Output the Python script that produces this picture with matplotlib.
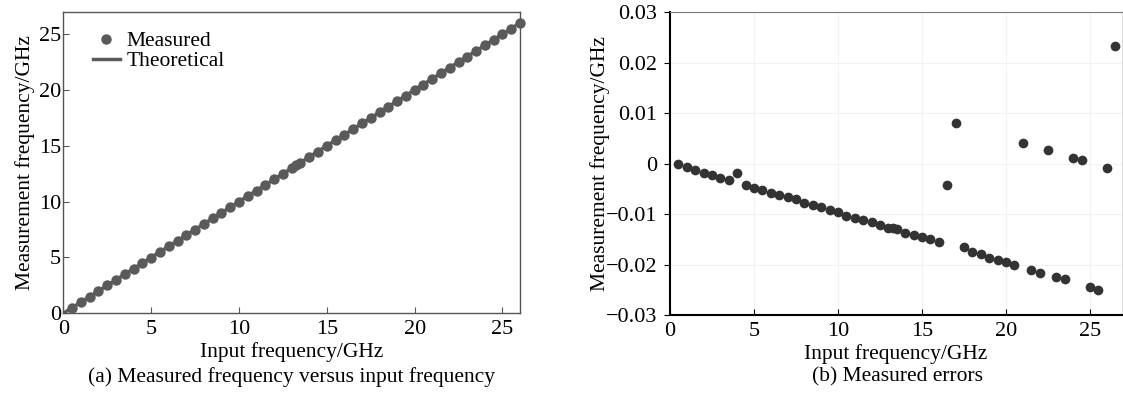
import numpy as np
import matplotlib
matplotlib.use("Agg")
import matplotlib.pyplot as plt
from matplotlib.ticker import FuncFormatter

# input frequencies (GHz) and measured errors (GHz)
freq_in = [0.5, 1.0, 1.5, 2.0, 2.5, 3.0, 3.5, 4.0, 4.5, 5.0, 5.5, 6.0, 6.5,
           7.0, 7.5, 8.0, 8.5, 9.0, 9.5, 10.0, 10.5, 11.0, 11.5, 12.0, 12.5,
           13.0, 13.25, 13.5, 14.0, 14.5, 15.0, 15.5, 16.0, 16.5, 17.0, 17.5,
           18.0, 18.5, 19.0, 19.5, 20.0, 20.5, 21.0, 21.5, 22.0, 22.5, 23.0,
           23.5, 24.0, 24.5, 25.0, 25.5, 26.0, 26.5]
err = [-0.0001, -0.0007, -0.0013, -0.0018, -0.0023, -0.0028, -0.0033, -0.0019,
       -0.0042, -0.0048, -0.0052, -0.0058, -0.0062, -0.0067, -0.0071, -0.0077,
       -0.0082, -0.0086, -0.0092, -0.0096, -0.0103, -0.0107, -0.0111, -0.0116,
       -0.0122, -0.0127, -0.0127, -0.0130, -0.0137, -0.0141, -0.0146, -0.0150,
       -0.0156, -0.0042, 0.0080, -0.0165, -0.0176, -0.0180, -0.0186, -0.0191,
       -0.0195, -0.0201, 0.0041, -0.0210, -0.0216, 0.0027, -0.0224, -0.0229,
       0.0012, 0.0007, -0.0244, -0.0250, -0.0008, 0.0234]
theory_x = [0, 26]

freq_in = np.array(freq_in)
err = np.array(err)
keep = freq_in <= 26
measured = freq_in[keep] + err[keep]

plt.rcParams['font.family'] = ['Liberation Serif', 'DejaVu Serif']
plt.rcParams['font.size'] = 15.5
plt.rcParams['axes.unicode_minus'] = True

fig = plt.figure(figsize=(11.23, 3.95), dpi=100)

#=========================================
# (a) measured vs input
#=========================================
ax1 = fig.add_axes([0.0564, 0.2068, 0.4067, 0.7635])
ax1.plot(theory_x, theory_x, color='#5a5a5a', lw=2.5, label='Theoretical', zorder=2)
ax1.plot(freq_in[keep], measured, 'o', color='#5a5a5a', ms=7.5, mec='none',
         label='Measured', clip_on=False, zorder=3)
ax1.set_xlim(0, 26)
ax1.set_ylim(0, 27)
ax1.set_xticks([0, 5, 10, 15, 20, 25])
ax1.set_yticks([0, 5, 10, 15, 20, 25])
for s in ax1.spines.values():
    s.set_color('#555555')
    s.set_linewidth(1.0)
ax1.tick_params(direction='in', length=4, color='#555555', labelsize=16)
ax1.tick_params(axis='x', pad=5)
ax1.tick_params(axis='y', pad=1.5)
ax1.set_xlabel('Input frequency/GHz', labelpad=2)
ax1.set_ylabel('Measurement frequency/GHz', labelpad=3)
h, l = ax1.get_legend_handles_labels()
ax1.legend(h[::-1], l[::-1], loc='upper left', bbox_to_anchor=(0.065, 0.935),
           frameon=False, handlelength=1.25, handletextpad=0.3,
           labelspacing=0.0, borderpad=0.0, borderaxespad=0.0)
fig.text(0.26, 0.045, '(a) Measured frequency versus input frequency',
         ha='center', va='center')

#=========================================
# (b) measured errors
#=========================================
ax2 = fig.add_axes([0.5966, 0.2025, 0.4025, 0.7663])
ax2.plot(freq_in, err, 'o', color='#333333', ms=7, mec='none', zorder=3)
ax2.set_xlim(0, 26.9)
ax2.set_ylim(-0.03, 0.03)
ax2.set_xticks([0, 5, 10, 15, 20, 25])
ax2.set_yticks([-0.03, -0.02, -0.01, 0, 0.01, 0.02, 0.03])
ax2.yaxis.set_major_formatter(FuncFormatter(
    lambda v, p: '0' if abs(v) < 1e-9 else ('%.2f' % v).replace('-', '\u2212')))
ax2.grid(True, color='#f2f2f2', lw=0.8)
ax2.spines['top'].set_color('#777777')
ax2.spines['top'].set_linewidth(0.8)
ax2.spines['right'].set_color('#dddddd')
ax2.spines['left'].set_linewidth(1.5)
ax2.spines['bottom'].set_linewidth(1.5)
ax2.tick_params(axis='x', direction='in', length=4, pad=5, labelsize=16)
ax2.tick_params(axis='y', direction='out', length=4, pad=5, labelsize=16)
ax2.set_xlabel('Input frequency/GHz', labelpad=2)
ax2.set_ylabel('Measurement frequency/GHz', labelpad=-3)
fig.text(0.799, 0.045, '(b) Measured errors', ha='center', va='center')

fig.savefig('out.png', dpi=100)
